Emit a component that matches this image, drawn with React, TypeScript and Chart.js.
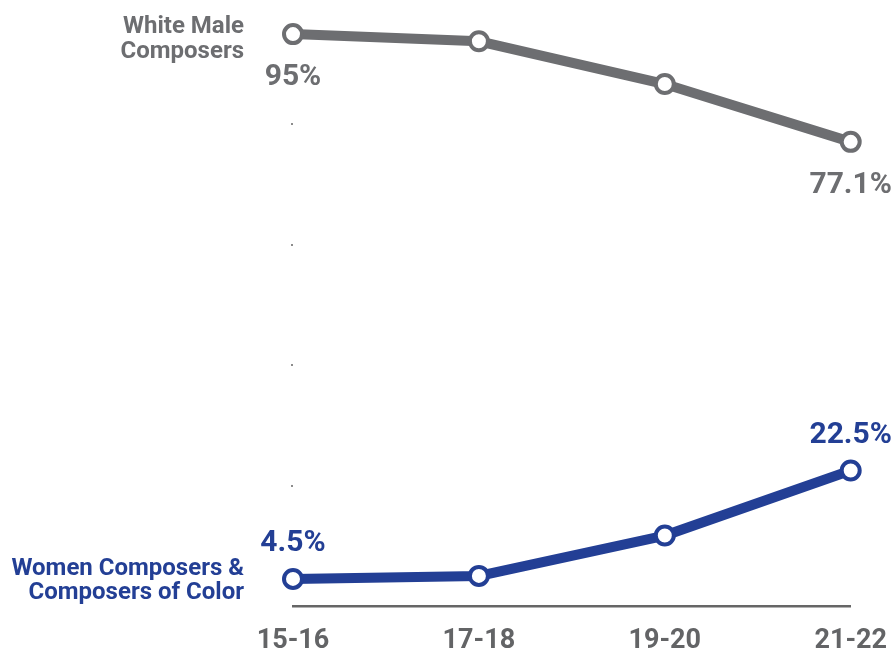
import { useEffect, useRef } from "react";
import { Chart, registerables } from "chart.js";

Chart.register(...registerables);

// Seasons on the x axis
const seasons = ["15-16", "17-18", "19-20", "21-22"];
// Share of programmed works (%)
const whiteMaleShare = [95, 93.8, 86.7, 77.1];
const womenAndColorShare = [4.5, 5.0, 11.7, 22.5];
// Series names, one line per entry
const whiteMaleName = ["White Male", "Composers"];
const womenAndColorName = ["Women Composers &", "Composers of Color"];
// Value axis range and step
const yMin = 0;
const yMax = 100;
const yStep = 20;

const GRAY = "#6d6e71";
const BLUE = "#233f95";
const FONT = "Roboto, 'Noto Sans', sans-serif";

// Writes the first and last values next to each line, plus the series name to the left
const seriesLabels = {
  id: "seriesLabels",
  afterDatasetsDraw(chart: any) {
    const ctx = chart.ctx;
    chart.data.datasets.forEach((ds: any, i: number) => {
      const pts = chart.getDatasetMeta(i).data;
      const below = ds.labelBelow;
      ctx.save();
      ctx.fillStyle = ds.borderColor;
      ctx.textBaseline = "alphabetic";
      ctx.font = `bold 30px ${FONT}`;
      ctx.textAlign = "center";
      [0, pts.length - 1].forEach((j) => {
        const p = pts[j];
        ctx.fillText(`${ds.data[j]}%`, p.x, below ? p.y + 51 : p.y - 28);
      });
      ctx.font = `bold 24px ${FONT}`;
      ctx.textAlign = "right";
      const first = pts[0];
      const base = below ? first.y - 1 : first.y - 4;
      ds.nameLines.forEach((line: string, k: number) => {
        ctx.fillText(line, first.x - 49, base + k * 24.5);
      });
      ctx.restore();
    });
  },
};

export default function App() {
  const canvasRef = useRef<HTMLCanvasElement | null>(null);

  useEffect(() => {
    let chart: Chart | null = null;
    let cancelled = false;

    const build = () => {
      if (cancelled || !canvasRef.current) return;
      chart = new Chart(canvasRef.current, {
        type: "line",
        data: {
          labels: seasons,
          datasets: [
            {
              label: whiteMaleName.join(" "),
              data: whiteMaleShare,
              borderColor: GRAY,
              pointBackgroundColor: "#ffffff",
              pointBorderColor: GRAY,
              labelBelow: true,
              nameLines: whiteMaleName,
            } as any,
            {
              label: womenAndColorName.join(" "),
              data: womenAndColorShare,
              borderColor: BLUE,
              pointBackgroundColor: "#ffffff",
              pointBorderColor: BLUE,
              labelBelow: false,
              nameLines: womenAndColorName,
            } as any,
          ],
        },
        options: {
          animation: false,
          responsive: false,
          maintainAspectRatio: false,
          layout: { autoPadding: false, padding: { top: 4, right: 44, left: 0, bottom: 0 } },
          elements: {
            line: { borderWidth: 10, tension: 0, fill: false },
            point: { radius: 9, borderWidth: 4, hoverRadius: 9 },
          },
          datasets: { line: { clip: false } as any },
          plugins: {
            legend: { display: false },
            tooltip: { enabled: false },
          },
          scales: {
            x: {
              offset: false,
              grid: { display: false },
              border: { display: true, color: "#666666", width: 2.5 },
              ticks: {
                color: "#636466",
                padding: 9,
                font: { family: FONT, size: 27, weight: "bold", lineHeight: 1.35 },
              },
              afterFit: (s: any) => {
                s.height = 44;
              },
            },
            y: {
              min: yMin,
              max: yMax,
              border: { display: false },
              ticks: { display: false, stepSize: yStep },
              grid: {
                drawOnChartArea: false,
                drawTicks: true,
                tickLength: 2,
                lineWidth: 2,
                color: (c: any) =>
                  c.tick && (c.tick.value === yMin || c.tick.value === yMax)
                    ? "rgba(0,0,0,0)"
                    : "#8c8c8c",
              },
              afterFit: (s: any) => {
                s.width = 293;
              },
            },
          },
        },
        plugins: [seriesLabels],
      });
    };

    if ((document as any).fonts && (document as any).fonts.load) {
      Promise.all([
        document.fonts.load(`bold 26px Roboto`),
        document.fonts.load(`bold 22px Roboto`),
      ])
        .catch(() => undefined)
        .then(build);
    } else {
      build();
    }

    return () => {
      cancelled = true;
      if (chart) chart.destroy();
    };
  }, []);

  return (
    <div style={{ position: "fixed", left: 0, top: 0, width: 896, height: 650, background: "#ffffff" }}>
      <canvas ref={canvasRef} width={896} height={650} style={{ display: "block" }} />
    </div>
  );
}
